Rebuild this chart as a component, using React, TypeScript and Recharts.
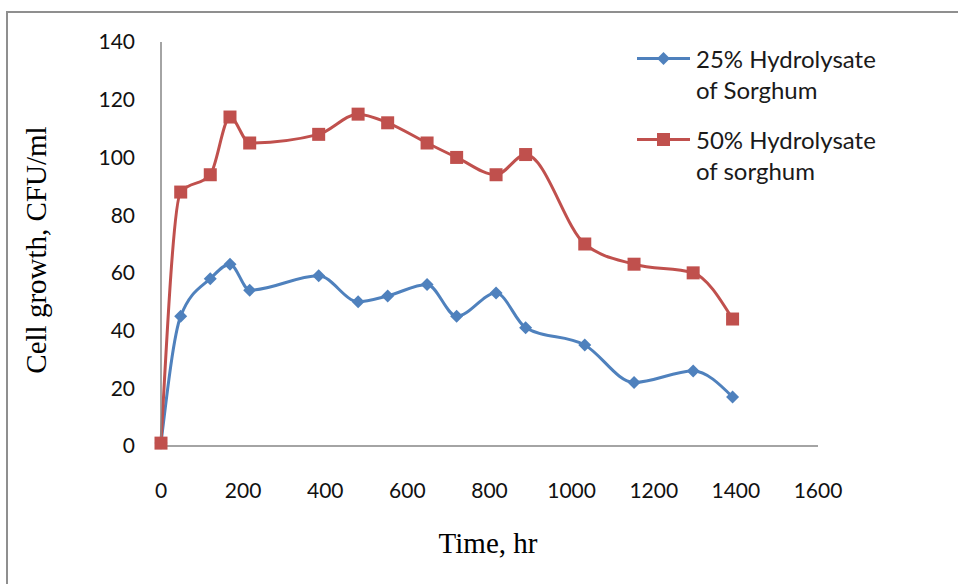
import {
  LineChart,
  Line,
  XAxis,
  YAxis,
  Label,
} from "recharts";

// sampling times (hours) and viable counts for the two hydrolysate strengths
const timeHr = [0, 48, 120, 168, 216, 384, 480, 552, 648, 720, 816, 888, 1032, 1152, 1296, 1392];
const growth25 = [1, 45, 58, 63, 54, 59, 50, 52, 56, 45, 53, 41, 35, 22, 26, 17];
const growth50 = [1, 88, 94, 114, 105, 108, 115, 112, 105, 100, 94, 101, 70, 63, 60, 44];

const xTicks = [0, 200, 400, 600, 800, 1000, 1200, 1400, 1600];
const yTicks = [0, 20, 40, 60, 80, 100, 120, 140];

const legend25 = ["25% Hydrolysate", "of Sorghum"];
const legend50 = ["50% Hydrolysate", "of sorghum"];

const BLUE = "#4F81BD";
const RED = "#C0504D";
const AXIS = "#868686";
const TICK_FONT = "Lato, 'Open Sans', sans-serif";
const TITLE_FONT = "'Liberation Serif', 'DejaVu Serif', serif";

const data = timeHr.map((t, i) => ({
  time: t,
  g25: growth25[i],
  g50: growth50[i],
}));

const Diamond = (props: any) => {
  const { cx, cy } = props;
  if (cx == null || cy == null) return null;
  const r = 6.5;
  return (
    <path
      d={`M${cx},${cy - r}L${cx + r},${cy}L${cx},${cy + r}L${cx - r},${cy}Z`}
      fill={BLUE}
    />
  );
};

const Square = (props: any) => {
  const { cx, cy } = props;
  if (cx == null || cy == null) return null;
  const s = 13;
  return <rect x={cx - s / 2} y={cy - s / 2} width={s} height={s} fill={RED} />;
};

// legend sits over the chart, so it does not shrink the plot area
const LegendBox = () => {
  const items = [
    { color: BLUE, lines: legend25, marker: "diamond" },
    { color: RED, lines: legend50, marker: "square" },
  ];
  return (
    <div
      style={{
        position: "absolute",
        left: 636,
        top: 43,
        fontFamily: TICK_FONT,
        fontSize: 24,
        color: "#1a1a1a",
      }}
    >
      {items.map((it, idx) => (
        <div
          key={idx}
          style={{ display: "flex", alignItems: "flex-start", marginBottom: idx === 0 ? 19 : 0 }}
        >
          <svg width={60} height={31} style={{ flex: "none" }}>
            <line x1={1} y1={15.5} x2={54} y2={15.5} stroke={it.color} strokeWidth={3} />
            {it.marker === "diamond" ? (
              <path d="M27.5,9L34,15.5L27.5,22L21,15.5Z" fill={it.color} />
            ) : (
              <rect x={21} y={9} width={13} height={13} fill={it.color} />
            )}
          </svg>
          <div style={{ lineHeight: "31px", whiteSpace: "nowrap" }}>
            {it.lines.map((l) => (
              <div key={l}>{l}</div>
            ))}
          </div>
        </div>
      ))}
    </div>
  );
};

const XTitle = () => (
  <text
    x={488}
    y={553}
    textAnchor="middle"
    fontFamily={TITLE_FONT}
    fontSize={29}
    fill="#000"
  >
    Time, hr
  </text>
);

const YTitle = () => (
  <text
    x={0}
    y={0}
    transform="translate(46,250) rotate(-90)"
    textAnchor="middle"
    fontFamily={TITLE_FONT}
    fontSize={29}
    fill="#000"
  >
    Cell growth, CFU/ml
  </text>
);

export default function App() {
  return (
    <div
      style={{
        position: "relative",
        width: 958,
        height: 584,
        overflow: "hidden",
        background: "#fff",
      }}
    >
      <style>{`body{margin:0}`}</style>
      <div
        style={{
          position: "absolute",
          left: 6,
          top: 11,
          width: 1000,
          height: 700,
          borderLeft: "2px solid #8f8f8f",
          borderTop: "2px solid #8f8f8f",
        }}
      />
      <div style={{ position: "absolute", left: 0, top: 0 }}>
        <LineChart
          width={958}
          height={584}
          data={data}
          margin={{ top: 42, right: 140, bottom: 98, left: 101 }}
        >
          <XAxis
            dataKey="time"
            type="number"
            domain={[0, 1600]}
            ticks={xTicks}
            interval={0}
            height={40}
            tickLine={false}
            tickSize={0}
            tickMargin={37}
            stroke={AXIS}
            strokeWidth={1.5}
            tick={{ fill: "#111", fontSize: 21, fontFamily: TICK_FONT }}
          >
            <Label content={<XTitle />} />
          </XAxis>
          <YAxis
            type="number"
            domain={[0, 140]}
            ticks={yTicks}
            interval={0}
            width={60}
            tickLine={false}
            tickSize={0}
            tickMargin={26}
            stroke={AXIS}
            strokeWidth={1.5}
            tick={{ fill: "#111", fontSize: 21, fontFamily: TICK_FONT }}
          >
            <Label content={<YTitle />} />
          </YAxis>
          <Line
            type="monotone"
            dataKey="g25"
            name="25% Hydrolysate of Sorghum"
            stroke={BLUE}
            strokeWidth={3}
            dot={<Diamond />}
            activeDot={false}
            isAnimationActive={false}
          />
          <Line
            type="monotone"
            dataKey="g50"
            name="50% Hydrolysate of sorghum"
            stroke={RED}
            strokeWidth={3}
            dot={<Square />}
            activeDot={false}
            isAnimationActive={false}
          />
        </LineChart>
      </div>
      <LegendBox />
    </div>
  );
}
